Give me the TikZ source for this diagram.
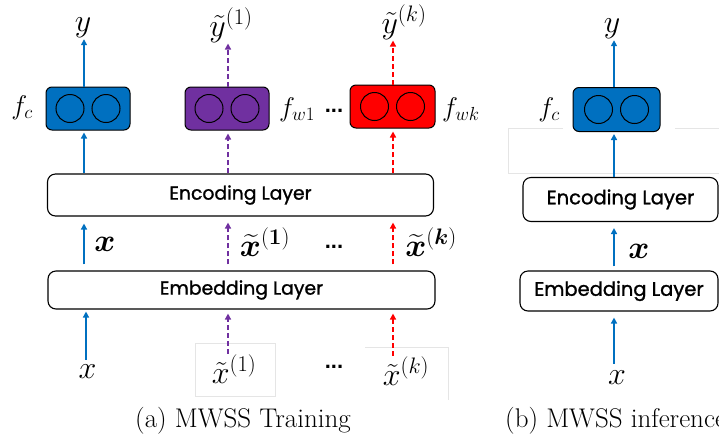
\RequirePackage{fix-cm}
\documentclass[tikz,border=0pt]{standalone}
\usepackage{fontspec}
\usepackage{amsmath,bm}
\usetikzlibrary{arrows.meta}
\newfontfamily\layerfont{Poppins}[FakeBold=1.2]
\newfontfamily\dotfont{Liberation Sans}
\definecolor{cblue}{HTML}{0070C0}
\definecolor{cpurple}{HTML}{7030A0}
\definecolor{cred}{HTML}{FF0000}
\begin{document}
\begin{tikzpicture}[x=1pt,y=-1pt,
  layer/.style={draw, rounded corners=8pt, line width=1.1pt, font=\layerfont\fontsize{18.8}{22}\selectfont},
  layerR/.style={layer, font=\layerfont\fontsize{19.5}{22}\selectfont},
  clf/.style={draw, rounded corners=6pt, line width=1pt, minimum width=84pt, minimum height=43pt},
  circ/.style={draw, circle, line width=1pt, minimum size=28pt, inner sep=0pt},
  mlab/.style={font=\fontsize{32}{36}\selectfont, inner sep=1pt},
  flab/.style={font=\fontsize{27}{30}\selectfont, inner sep=1pt},
  dots/.style={font=\dotfont\bfseries\fontsize{22}{24}\selectfont, inner sep=0pt},
  arr/.style={line width=1.8pt, -{Triangle[length=6pt,width=6pt]}},
  barr/.style={arr, draw=cblue},
  parr/.style={arr, draw=cpurple, dash pattern=on 5pt off 3pt},
  rarr/.style={arr, draw=cred, dash pattern=on 5pt off 3pt},
  faint/.style={draw=black!10, line width=0.6pt},
  captext/.style={font=\fontsize{27}{30}\selectfont, inner sep=0pt}
]
\useasboundingbox (0,0) rectangle (719,437);

% columns
\coordinate (cb) at (84,0);
\coordinate (cp) at (228,0);
\coordinate (cr) at (393,0);
\coordinate (cR) at (614,0);

% ---------- left panel ----------
\node[layer, minimum width=386pt, minimum height=42pt] (enc) at (240.5,195) {Encoding Layer};
\node[layer, minimum width=387pt, minimum height=38pt] (emb) at (241.5,290) {Embedding Layer};

\node[clf, fill=cblue] (fc) at (88,108.5) {};
\node[circ] at ([xshift=-18pt]fc.center) {};
\node[circ] at ([xshift=18pt]fc.center) {};
\node[clf, fill=cpurple] (fw1) at (227,108.5) {};
\node[circ] at ([xshift=-18pt]fw1.center) {};
\node[circ] at ([xshift=18pt]fw1.center) {};
\node[clf, fill=cred, minimum width=85pt] (fwk) at (392.5,106.5) {};
\node[circ] at ([xshift=-18pt]fwk.center) {};
\node[circ] at ([xshift=18pt]fwk.center) {};

\node[flab] (lfc) at (22,108) {$f_c$};
\node[flab] (lfw1) at (297,110) {$f_{w1}$};
\node[dots] (dtop) at (334,111) {...};
\node[flab] (lfwk) at (461,110) {$f_{wk}$};

\node[mlab] (yL) at (83,28) {$y$};
\node[mlab] (y1) at (231,25) {$\tilde{y}^{(1)}$};
\node[mlab] (yk) at (404,22) {$\tilde{y}^{(k)}$};

\node[mlab] (xbL) at (105,244) {$\bm{x}$};
\node[mlab] (xb1) at (265,242) {$\widetilde{\bm{x}}^{(\bm{1})}$};
\node[dots] (dmid) at (334,247) {...};
\node[mlab] (xbk) at (431,242) {$\widetilde{\bm{x}}^{(\bm{k})}$};

\draw[faint] (195,343) rectangle (275,396);
\draw[faint] (365,347) -- (448,347) -- (448,400);
\node[mlab] (xL) at (87.5,372) {$x$};
\node[mlab] (x1) at (234,369) {$\tilde{x}^{(1)}$};
\node[dots] (dbot) at (334,367) {...};
\node[mlab] (xk) at (406,371) {$\tilde{x}^{(k)}$};

% arrows blue
\draw[barr, shorten >=2pt] ([xshift=-1.5pt,yshift=4pt]xL.north) -- ([xshift=-1.5pt]xL.north |- emb.south);
\draw[barr, shorten <=6pt, shorten >=7pt] (emb.north -| cb) -- (enc.south -| cb);
\draw[barr, shorten >=2pt] (enc.north -| cb) -- (fc.south -| cb);
\draw[barr] (fc.north -| cb) -- (yL.south -| cb);
% purple
\draw[parr, shorten >=4pt] (x1.north -| cp) -- (emb.south -| cp);
\draw[parr, shorten <=6pt, shorten >=6pt] (emb.north -| cp) -- (enc.south -| cp);
\draw[parr, shorten >=3pt] (enc.north -| cp) -- (fw1.south -| cp);
\draw[parr] (fw1.north -| cp) -- (y1.south -| cp);
% red
\draw[rarr, shorten >=4pt] (xk.north -| cr) -- (emb.south -| cr);
\draw[rarr, shorten <=6pt, shorten >=6pt] (emb.north -| cr) -- (enc.south -| cr);
\draw[rarr, shorten >=3pt] (enc.north -| cr) -- (fwk.south -| cr);
\draw[rarr] (fwk.north -| cr) -- (yk.south -| cr);

\node[captext, anchor=base] (capa) at (243,427) {(a) MWSS Training};

% ---------- right panel ----------
\draw[faint] (563,128) -- (508,128) -- (508,173) -- (719,173);
\draw[faint] (675,128) -- (719,128);
\node[layerR, minimum width=195pt, minimum height=44pt] (encR) at (620.5,199.5) {Encoding Layer};
\node[layerR, minimum width=198pt, minimum height=40pt] (embR) at (619,291) {Embedding Layer};
\node[clf, fill=cblue, minimum width=87pt, minimum height=44pt] (fcR) at (616.5,109.5) {};
\node[circ] at ([xshift=-18pt]fcR.center) {};
\node[circ] at ([xshift=18pt]fcR.center) {};
\node[flab] (lfcR) at (549,110) {$f_c$};
\node[mlab] (yR) at (612,29) {$y$};
\node[mlab] (xbR) at (639,251) {$\bm{x}$};
\node[mlab] (xR) at (617,378) {$x$};

\draw[barr, shorten <=6pt, shorten >=6pt] (xR.north -| cR) -- (embR.south -| cR);
\draw[barr, shorten <=4pt, shorten >=6pt] (embR.north -| cR) -- (encR.south -| cR);
\draw[barr, shorten >=2pt] (encR.north -| cR) -- (fcR.south -| cR);
\draw[barr] (fcR.north -| cR) -- (yR.south -| cR);

\node[captext, anchor=base west] (capb) at (505,427) {(b) MWSS inference};
\end{tikzpicture}
\end{document}
